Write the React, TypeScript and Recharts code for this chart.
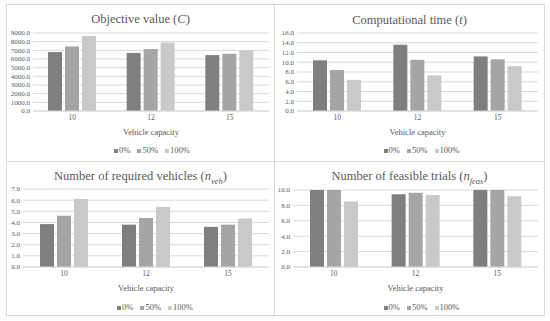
import React from 'react';
import { BarChart, Bar, XAxis, YAxis, CartesianGrid, Legend } from 'recharts';

const categories = ['10', '12', '15'];
const seriesNames = ['0%', '50%', '100%'];

const objective0 = [6800, 6700, 6450];
const objective50 = [7450, 7150, 6600];
const objective100 = [8650, 7900, 7000];
const objectiveTicks = [0, 1000, 2000, 3000, 4000, 5000, 6000, 7000, 8000, 9000];

const time0 = [10.4, 13.6, 11.2];
const time50 = [8.4, 10.5, 10.6];
const time100 = [6.4, 7.3, 9.2];
const timeTicks = [0, 2, 4, 6, 8, 10, 12, 14, 16];

const vehicles0 = [3.85, 3.8, 3.6];
const vehicles50 = [4.6, 4.4, 3.8];
const vehicles100 = [6.1, 5.4, 4.35];
const vehicleTicks = [0, 1, 2, 3, 4, 5, 6, 7];

const feasible0 = [10, 9.45, 10];
const feasible50 = [10, 9.65, 10];
const feasible100 = [8.5, 9.35, 9.2];
const feasibleTicks = [0, 2, 4, 6, 8, 10];

const COLORS = ['#7f7f7f', '#a5a5a5', '#c9c9c9'];
const FONT = '"Times New Roman", "Liberation Serif", serif';

function buildRows(a: number[], b: number[], c: number[]) {
  return categories.map((cat, i) => ({ cat, s0: a[i], s1: b[i], s2: c[i] }));
}

type PanelProps = {
  left: number;
  top: number;
  width: number;
  height: number;
  title: React.ReactNode;
  titleY: number;
  data: any[];
  ticks: number[];
  yWidth: number;
  marginTop: number;
  marginRight: number;
  marginBottom: number;
  legendBottom: number;
  legendShift: number;
};

function Panel(p: PanelProps) {
  const max = p.ticks[p.ticks.length - 1];
  return (
    <div
      style={{
        position: 'absolute',
        left: p.left,
        top: p.top,
        width: p.width,
        height: p.height,
        boxSizing: 'border-box',
        border: '1px solid #d9d9d9',
        background: '#fff',
        fontFamily: FONT,
      }}
    >
      <div
        style={{
          position: 'absolute',
          left: 0,
          width: '100%',
          top: p.titleY - 9,
          textAlign: 'center',
          fontFamily: FONT,
          fontSize: 12.5,
          color: '#595959',
          lineHeight: '18px',
          whiteSpace: 'nowrap',
        }}
      >
        {p.title}
      </div>
      <div style={{ position: 'absolute', left: -1, top: -1 }}>
        <BarChart
          width={p.width}
          height={p.height}
          data={p.data}
          margin={{ top: p.marginTop, right: p.marginRight, bottom: p.marginBottom, left: 0 }}
          barSize={14}
          barGap={3}
          style={{ fontFamily: FONT }}
        >
          <CartesianGrid vertical={false} stroke="#d9d9d9" />
          <XAxis
            dataKey="cat"
            height={25}
            tickLine={false}
            tickSize={0}
            axisLine={{ stroke: '#d9d9d9' }}
            tick={{ fontSize: 7.5, fill: '#595959', fontFamily: FONT }}
            tickMargin={4}
            label={{
              value: 'Vehicle capacity',
              position: 'insideBottom',
              offset: 1,
              style: { fontSize: 8.5, fill: '#595959', fontFamily: FONT },
            }}
          />
          <YAxis
            width={p.yWidth}
            domain={[0, max]}
            ticks={p.ticks}
            interval={0}
            tickLine={false}
            tickSize={0}
            axisLine={false}
            tickFormatter={(v: number) => v.toFixed(1)}
            tick={{ fontSize: 7, fill: '#595959', fontFamily: FONT }}
            tickMargin={3}
          />
          <Legend
            verticalAlign="bottom"
            align="center"
            iconType="square"
            iconSize={4}
            itemSorter="dataKey"
            wrapperStyle={{
              fontSize: 8.5,
              fontFamily: FONT,
              color: '#595959',
              lineHeight: '10px',
              whiteSpace: 'nowrap',
              bottom: p.legendBottom,
              left: p.legendShift,
            }}
            formatter={(value: string) => (
              <span style={{ color: '#595959', marginLeft: -3, marginRight: -3, whiteSpace: 'nowrap' }}>{value}</span>
            )}
          />
          <Bar dataKey="s0" name={seriesNames[0]} fill={COLORS[0]} isAnimationActive={false} />
          <Bar dataKey="s1" name={seriesNames[1]} fill={COLORS[1]} isAnimationActive={false} />
          <Bar dataKey="s2" name={seriesNames[2]} fill={COLORS[2]} isAnimationActive={false} />
        </BarChart>
      </div>
    </div>
  );
}

export default function App() {
  return (
    <div style={{ position: 'absolute', left: 0, top: 0, width: 550, height: 321, background: '#fff' }}>
      <Panel
        left={6}
        top={4}
        width={269}
        height={158}
        title={<span>Objective value (<i>C</i>)</span>}
        titleY={14}
        data={buildRows(objective0, objective50, objective100)}
        ticks={objectiveTicks}
        yWidth={27}
        marginTop={29}
        marginRight={6}
        marginBottom={16}
        legendBottom={7}
        legendShift={18}
      />
      <Panel
        left={274}
        top={4}
        width={271}
        height={158}
        title={<span>Computational time (<i>t</i>)</span>}
        titleY={15}
        data={buildRows(time0, time50, time100)}
        ticks={timeTicks}
        yWidth={23}
        marginTop={29}
        marginRight={7}
        marginBottom={16}
        legendBottom={7}
        legendShift={19}
      />
      <Panel
        left={6}
        top={161}
        width={269}
        height={155}
        title={<span>Number of required vehicles (<i>n</i><sub style={{ fontSize: 8.5 }}><i>veh</i></sub>)</span>}
        titleY={14}
        data={buildRows(vehicles0, vehicles50, vehicles100)}
        ticks={vehicleTicks}
        yWidth={17}
        marginTop={28}
        marginRight={6}
        marginBottom={14}
        legendBottom={4}
        legendShift={21}
      />
      <Panel
        left={274}
        top={161}
        width={271}
        height={155}
        title={<span>Number of feasible trials (<i>n</i><sub style={{ fontSize: 8.5 }}><i>feas</i></sub>)</span>}
        titleY={14}
        data={buildRows(feasible0, feasible50, feasible100)}
        ticks={feasibleTicks}
        yWidth={19}
        marginTop={29}
        marginRight={7}
        marginBottom={14}
        legendBottom={4}
        legendShift={19}
      />
    </div>
  );
}
